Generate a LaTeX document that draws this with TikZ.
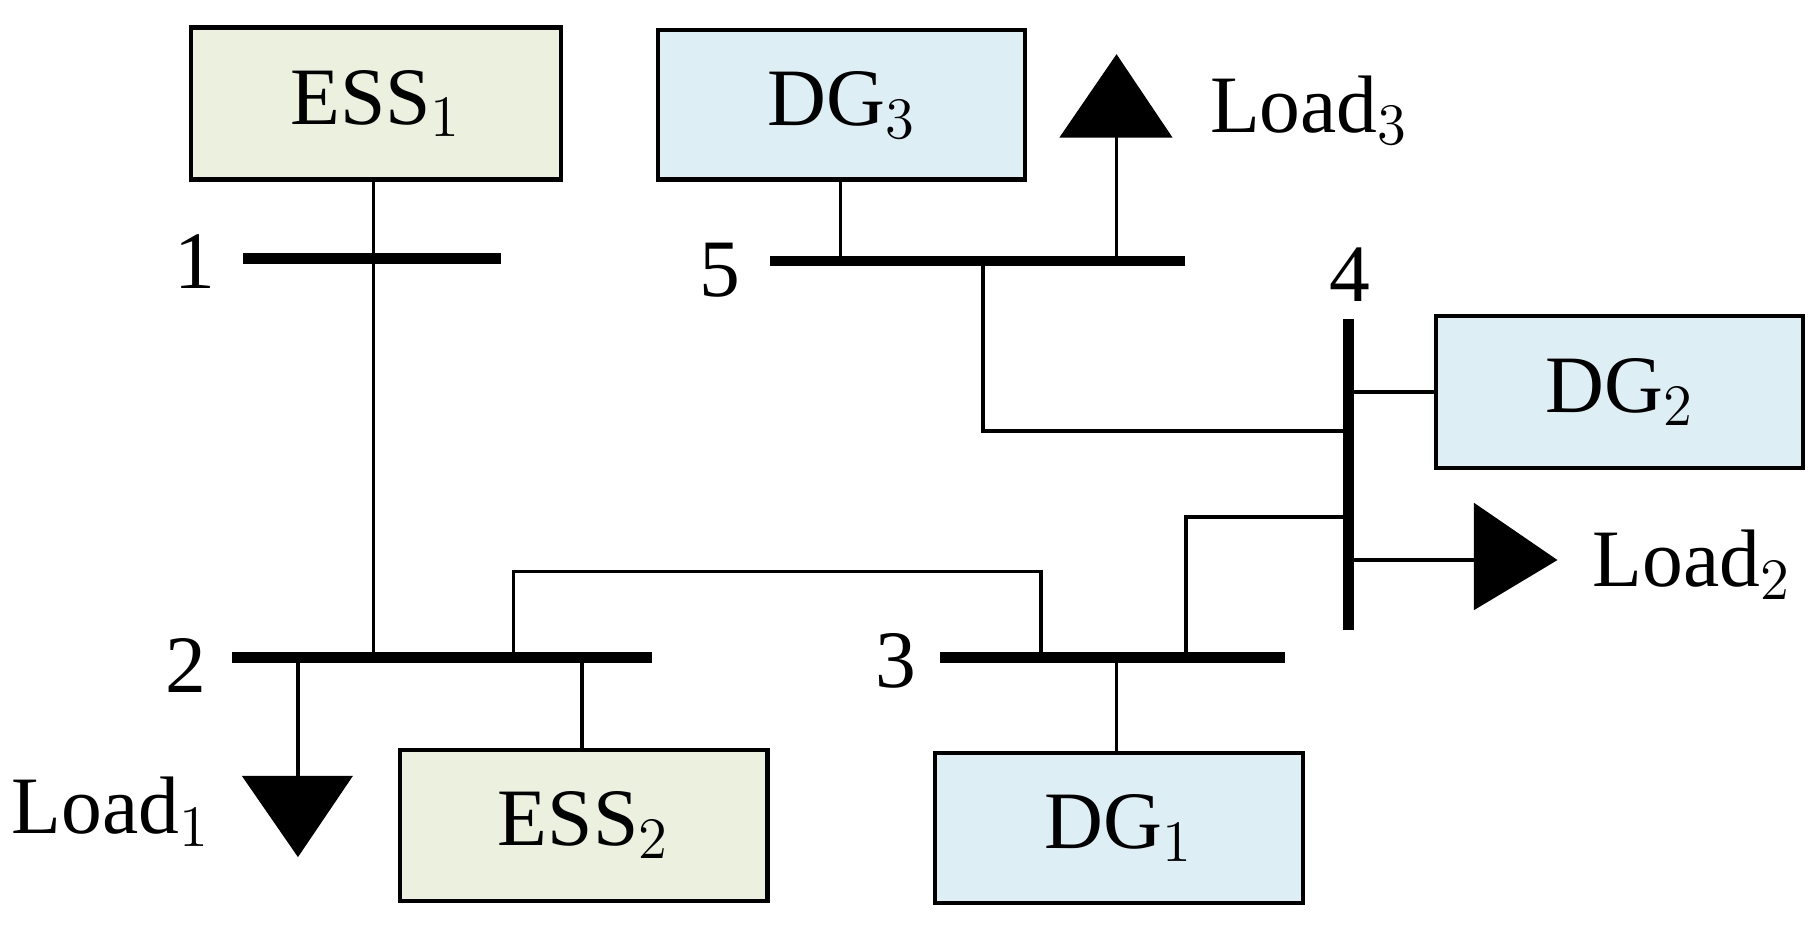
\documentclass[tikz,border=0pt]{standalone}
\usepackage{fontspec}
\setmainfont{Liberation Serif}
\begin{document}
\begin{tikzpicture}[x=0.01cm,y=-0.01cm,
  box/.style={draw,line width=1pt,inner sep=0pt,anchor=north west,font=\fontsize{20}{24}\selectfont},
  ess/.style={box,fill=essc},
  dg/.style={box,fill=dgc},
  bus/.style={line width=2.6pt},
  ln/.style={line width=0.9pt},
  lbl/.style={font=\fontsize{20}{24}\selectfont,inner sep=0pt},
  tri/.style={fill=black}]
\definecolor{essc}{HTML}{EBF1DE}
\definecolor{dgc}{HTML}{DDEFF5}
\useasboundingbox (0,0) rectangle (1568,816);
% boxes
\node[ess,minimum width=319\pgflinewidth*0+3.19cm,minimum height=1.31cm] (ess1) at (163,22) {ESS$_1$};
\node[dg,minimum width=3.16cm,minimum height=1.29cm] (dg3) at (566,24) {DG$_3$};
\node[dg,minimum width=3.16cm,minimum height=1.31cm] (dg2) at (1237,271) {DG$_2$};
\node[ess,minimum width=3.17cm,minimum height=1.30cm] (ess2) at (343,645) {ESS$_2$};
\node[dg,minimum width=3.17cm,minimum height=1.29cm] (dg1) at (805,648) {DG$_1$};
% buses
\coordinate (b1w) at (210,223); \coordinate (b1e) at (432,223);
\coordinate (b5w) at (664,225); \coordinate (b5e) at (1022,225);
\coordinate (b4n) at (1163,275); \coordinate (b4s) at (1163,543);
\coordinate (b2w) at (200,567); \coordinate (b2e) at (562,567);
\coordinate (b3w) at (811,567); \coordinate (b3e) at (1108,567);
\draw[bus] (b1w) -- (b1e); \draw[bus] (b5w) -- (b5e); \draw[bus] (b4n) -- (b4s);
\draw[bus] (b2w) -- (b2e); \draw[bus] (b3w) -- (b3e);
\node[lbl] (n1) at (168,226) {1};
\node[lbl] (n5) at (621,233) {5};
\node[lbl] (n4) at (1164,237) {4};
\node[lbl] (n2) at (160,574) {2};
\node[lbl] (n3) at (773,570) {3};
% lines
\draw[ln] (ess1.south -| 322,0) -- (322,567);
\draw[ln] (725,153) -- (725,225);
\draw[ln] (963,225) -- (963,118);
\draw[tri] (915,118) -- (963,48) -- (1010,118) -- cycle;
\node[lbl,anchor=west] (l3) at (1043,95) {Load$_3$};
\draw[ln] (848,225) -- (848,372) -- (1163,372);
\draw[ln] (1163,338) -- (dg2.west |- 0,338);
\draw[ln] (1163,483) -- (1272,483);
\draw[tri] (1272,435) -- (1342,483) -- (1272,525) -- cycle;
\node[lbl,anchor=west] (l2) at (1373,487) {Load$_2$};
\draw[ln] (1163,446) -- (1023,446) -- (1023,567);
\draw[ln] (443,567) -- (443,493) -- (898,493) -- (898,567);
\draw[ln] (502,567) -- (502,645);
\draw[ln] (257,567) -- (257,670);
\draw[tri] (210,670) -- (303,670) -- (257,738) -- cycle;
\node[lbl,anchor=east] (l1) at (182,700) {Load$_1$};
\draw[ln] (963,567) -- (963,648);
\end{tikzpicture}
\end{document}
